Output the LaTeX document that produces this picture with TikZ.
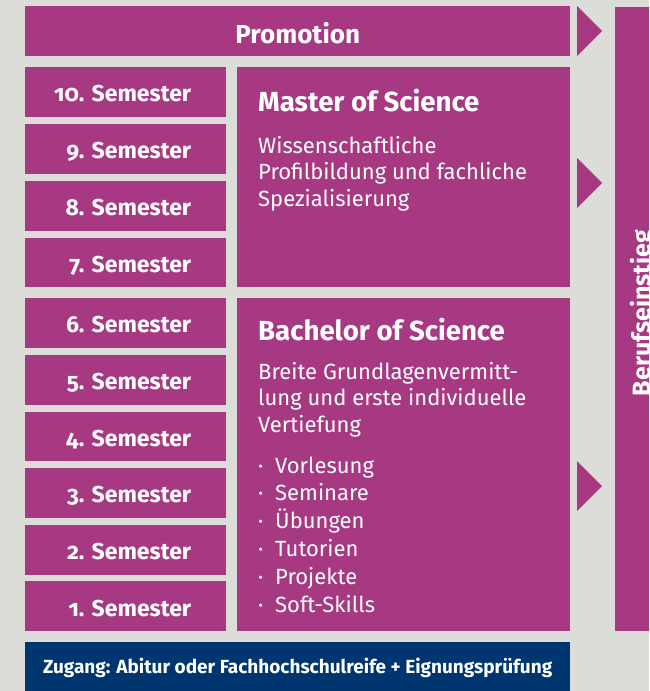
\documentclass[tikz,border=0pt]{standalone}
\usepackage{fontspec}
\setmainfont{Fira Sans}[Numbers=OldStyle]
\usetikzlibrary{calc}
\definecolor{lila}{RGB}{167,57,131}
\definecolor{zugblau}{RGB}{0,54,112}
\definecolor{hgrau}{RGB}{220,221,217}
% semester labels sit flush right, 35pt in from the box edge
\newcommand{\semtext}[1]{\makebox[201pt][r]{#1\hspace*{35pt}}}

\begin{document}
\begin{tikzpicture}[x=1pt,y=-1pt,
	lilabox/.style={fill=lila, draw=none, inner sep=0pt, anchor=north west, text=white},
	sem/.style={lilabox, minimum width=201pt, minimum height=49.8pt, text height=19.4pt, text depth=0pt, font=\bfseries\fontsize{23}{23}\selectfont},
	titel/.style={anchor=base west, text=white, inner sep=0pt, font=\bfseries\fontsize{27.6}{27.6}\selectfont},
	fliess/.style={anchor=base west, text=white, inner sep=0pt, font=\fontsize{22}{26}\selectfont}]

	%page and background
	\useasboundingbox (0,0) rectangle (649,691);
	\clip (0,0) rectangle (649,691);
	\fill[hgrau] (0,0) rectangle (649,691);

	%top bar
	\node[lilabox, minimum width=545pt, minimum height=50pt, text height=24.6pt, text depth=0pt, font=\bfseries\fontsize{26}{26}\selectfont] (promo) at (25,6) {Promotion};

	%semester column
	\node[sem] (s10) at (25,67) {\semtext{10. Semester}};
	\node[sem] (s9) at (25,123.8) {\semtext{9. Semester}};
	\node[sem] (s8) at (25,180.6) {\semtext{8. Semester}};
	\node[sem] (s7) at (25,237.4) {\semtext{7. Semester}};
	\node[sem] (s6) at (25,298) {\semtext{6. Semester}};
	\node[sem] (s5) at (25,354.65) {\semtext{5. Semester}};
	\node[sem] (s4) at (25,411.3) {\semtext{4. Semester}};
	\node[sem] (s3) at (25,467.95) {\semtext{3. Semester}};
	\node[sem] (s2) at (25,524.6) {\semtext{2. Semester}};
	\node[sem] (s1) at (25,581.25) {\semtext{1. Semester}};

	%degree boxes
	\node[lilabox, minimum width=333pt, minimum height=220.2pt] (master) at (237,67) {};
	\node[lilabox, minimum width=333pt, minimum height=333pt] (bachelor) at (237,298) {};

	%master text
	\node[titel] (mtitel) at (258,111) {Master of Science};
	\node[fliess] (m1) at (258,153) {Wissenschaftliche};
	\node[fliess] (m2) at (258,179.5) {Profilbildung und fachliche};
	\node[fliess] (m3) at (258,206) {Spezialisierung};

	%bachelor text
	\node[titel] (btitel) at (258,340) {Bachelor of Science};
	\node[fliess] (b1) at (258,379) {Breite Grundlagenvermitt-};
	\node[fliess] (b2) at (258,405.5) {lung und erste individuelle};
	\node[fliess] (b3) at (258,432) {Vertiefung};
	%bullet list
	\node[fliess] (l1) at (258,473) {\makebox[17pt][l]{·}Vorlesung};
	\node[fliess] (l2) at (258,500.8) {\makebox[17pt][l]{·}Seminare};
	\node[fliess] (l3) at (258,528.6) {\makebox[17pt][l]{·}Übungen};
	\node[fliess] (l4) at (258,556.4) {\makebox[17pt][l]{·}Tutorien};
	\node[fliess] (l5) at (258,584.2) {\makebox[17pt][l]{·}Projekte};
	\node[fliess] (l6) at (258,612) {\makebox[17pt][l]{·}Soft-Skills};

	%entry bar
	\node[lilabox, fill=zugblau, minimum width=545pt, minimum height=49pt, text height=13.5pt, text depth=0pt, font=\bfseries\fontsize{19}{19}\selectfont] (zugang) at (25,642) {Zugang: Abitur oder Fachhochschulreife + Eignungsprüfung};

	%career bar, cut by the page edge
	\node[lilabox, minimum width=60pt, minimum height=624pt] (beruf) at (615,7) {};
	\node[rotate=90, anchor=base, text=white, inner sep=0pt, font=\bfseries\fontsize{25}{25}\selectfont] (berufstext) at (650,313) {Berufseinstieg};

	%arrow heads towards career bar
	\fill[lila] (577,6) -- (602,31) -- (577,56) -- cycle;
	\fill[lila] (577,158) -- (602,183) -- (577,208) -- cycle;
	\fill[lila] (577,461) -- (602,486) -- (577,511) -- cycle;

\end{tikzpicture}
\end{document}
